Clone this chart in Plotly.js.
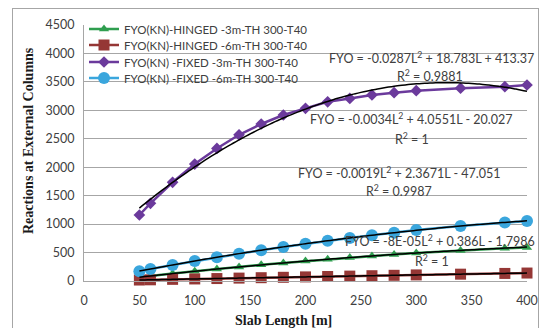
<!DOCTYPE html>
<html>
<head>
<meta charset="utf-8">
<script src="https://cdn.plot.ly/plotly-3.0.1.min.js"></script>
<style>
html,body{margin:0;padding:0;background:#fff;}
#frame{position:absolute;left:12px;top:8px;width:527px;height:322px;border:1px solid #a6a6a6;box-sizing:border-box;}
#chart{position:absolute;left:0;top:0;width:544px;height:328px;}
</style>
</head>
<body>
<div id="frame"></div>
<div id="chart"></div>
<script>
// Slab length (m)
const slabLength = [50,60,80,100,120,140,160,180,200,220,240,260,280,300,340,380,400];

// Series (kN)
const hinged3m = [65,90,133,172,212,248,284,318,350,382,412,440,467,492,538,575,590];
const hinged6m = [17,21,29,36,43,51,58,65,72,79,86,93,100,107,120,133,140];
const fixed3m  = [1160,1365,1735,2055,2330,2570,2760,2918,3035,3150,3210,3270,3310,3345,3390,3415,3445];
const fixed6m  = [170,212,282,350,416,480,541,598,654,706,756,804,848,895,965,1030,1055];

const seriesNames = [
  "FYO(KN)-HINGED -3m-TH 300-T40",
  "FYO(KN)-HINGED -6m-TH 300-T40",
  "FYO(KN) -FIXED -3m-TH 300-T40",
  "FYO(KN) -FIXED -6m-TH 300-T40"
];

const trendHinged3m = [-0.0019, 2.3671, -47.051];
const trendHinged6m = [-8e-05, 0.386, -1.7986];
const trendFixed3m  = [-0.0287, 18.783, 413.37];
const trendFixed6m  = [-0.0034, 4.0551, -20.027];

const eqLabels = [
  "FYO = -0.0287L<sup>2</sup> + 18.783L + 413.37",
  "R<sup>2</sup> = 0.9881",
  "FYO = -0.0034L<sup>2</sup> + 4.0551L - 20.027",
  "R<sup>2</sup> = 1",
  "FYO = -0.0019L<sup>2</sup> + 2.3671L - 47.051",
  "R<sup>2</sup> = 0.9987",
  "FYO = -8E-05L<sup>2</sup> + 0.386L - 1.7986",
  "R<sup>2</sup> = 1"
];

const xTicks = [0,50,100,150,200,250,300,350,400];
const yTicks = [0,500,1000,1500,2000,2500,3000,3500,4000,4500];
const xTitle = "Slab Length [m]";
const yTitle = "Reactions at External Columns";

const colors = ["#2f9e4f","#953735","#6b3a9c","#3aa6dd"];
const symbols = ["triangle-up","square","diamond","circle"];
const sizes = [9,11,9,12];
const seriesData = [hinged3m, hinged6m, fixed3m, fixed6m];
const trends = [trendHinged3m, trendHinged6m, trendFixed3m, trendFixed6m];
const legendIds = ["legend","legend2","legend3","legend4"];

// plot area in pixels
const PL=84, PR=527, PT=25, PB=281;
const px2x = p => (p-PL)/(PR-PL);
const px2y = p => (PB-p)/(PB-PT);

function evalTrend(c){
  const xs=[];
  for(let L=slabLength[0]; L<=slabLength[slabLength.length-1]; L+=5) xs.push(L);
  return {x:xs, y:xs.map(L=>c[0]*L*L + c[1]*L + c[2])};
}

const traces = [];
seriesData.forEach((d,i)=>{
  traces.push({
    x: slabLength, y: d, type:"scatter", mode:"lines+markers", name: seriesNames[i],
    legend: legendIds[i],
    line:{color:colors[i], width:2.5},
    marker:{symbol:symbols[i], size:sizes[i], color:colors[i]},
    cliponaxis:false
  });
});
trends.forEach((c,i)=>{
  const t = evalTrend(c);
  traces.push({
    x:t.x, y:t.y, type:"scatter", mode:"lines", showlegend:false, hoverinfo:"skip",
    line:{color:"#000000", width:1.5, shape:"spline"}
  });
});

const txtFont = "Lato, 'Open Sans', sans-serif";
const annFont = {family:txtFont, size:12.5, color:"#404040"};
const annPos = [
  [431,57],[430,75],[411,118],[412,138],[399,172],[399,190],[440,240],[432,260]
];
const annotations = eqLabels.map((t,i)=>({
  text:t, xref:"paper", yref:"paper",
  x:px2x(annPos[i][0]), y:px2y(annPos[i][1]),
  xanchor:"center", yanchor:"middle", showarrow:false, font:annFont
}));
const titleFont = {family:"'Liberation Serif', 'DejaVu Serif', serif", size:14, color:"#1a1a1a", weight:"bold"};
annotations.push({text:xTitle, xref:"paper", yref:"paper", x:px2x(283), y:px2y(320),
  xanchor:"center", yanchor:"middle", showarrow:false, font:titleFont});
annotations.push({text:yTitle, xref:"paper", yref:"paper", x:px2x(28), y:px2y(141),
  xanchor:"center", yanchor:"middle", showarrow:false, textangle:-90, font:titleFont});

const legendRows = [29,45,62,78];
const layout = {
  width:544, height:328,
  margin:{l:PL, r:544-PR, t:PT, b:328-PB},
  paper_bgcolor:"rgba(0,0,0,0)", plot_bgcolor:"rgba(0,0,0,0)",
  showlegend:true,
  xaxis:{range:[0,400], tickvals:xTicks, ticktext:xTicks.map(String),
         showgrid:false, zeroline:false, showline:true, linecolor:"#a6a6a6", linewidth:1,
         ticks:"", ticklabelstandoff:8,
         tickfont:{family:txtFont, size:12.5, color:"#404040"}},
  yaxis:{range:[0,4500], tickvals:yTicks, ticktext:yTicks.map(String),
         showgrid:true, gridcolor:"#a6a6a6", gridwidth:1, zeroline:false,
         showline:true, linecolor:"#a6a6a6", linewidth:1, ticks:"", ticklabelstandoff:6,
         tickfont:{family:txtFont, size:12.5, color:"#404040"}},
  annotations: annotations
};
legendIds.forEach((id,i)=>{
  layout[id] = {x:0.0, y:px2y(legendRows[i]), xanchor:"left", yanchor:"middle",
    bgcolor:"rgba(0,0,0,0)", borderwidth:0,
    font:{family:txtFont, size:11.5, color:"#404040"}, itemwidth:30};
});

Plotly.newPlot("chart", traces, layout, {displayModeBar:false, staticPlot:true});
</script>
</body>
</html>
